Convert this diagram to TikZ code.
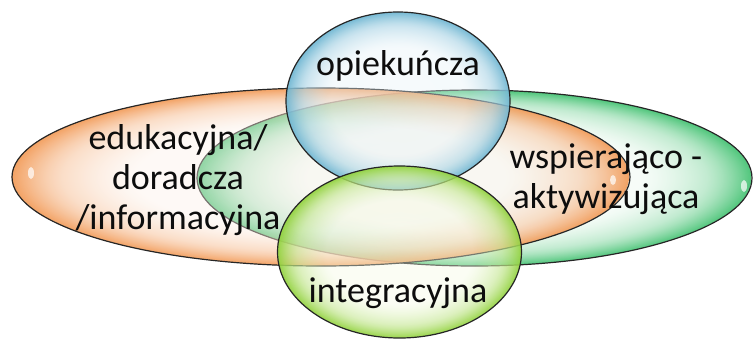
\documentclass[tikz,border=0pt]{standalone}
\usepackage{fontspec}
\setmainfont{Carlito}
\usetikzlibrary{fadings}

% colours of the four bubbles
\definecolor{orangeedge}{HTML}{F29C5A}
\definecolor{orangemid}{HTML}{FCF0E8}
\definecolor{greenedge}{HTML}{45C273}
\definecolor{greenmid}{HTML}{EAF8EE}
\definecolor{blueedge}{HTML}{6FB6D2}
\definecolor{bluemid}{HTML}{E6F2F8}
\definecolor{limeedge}{HTML}{92D23E}
\definecolor{limemid}{HTML}{F4FAE2}

\colorlet{bubin}{white}
\colorlet{bubout}{gray}
\pgfdeclareradialshading[bubin,bubout]{bubble}{\pgfpointorigin}{color(0bp)=(bubin); color(15bp)=(bubin); color(21bp)=(bubin!55!bubout); color(25bp)=(bubout); color(50bp)=(bubout)}
% centre see-through, rim nearly solid
\pgfdeclareradialshading{bubblemask}{\pgfpointorigin}{color(0bp)=(black!65); color(16bp)=(black!60); color(22bp)=(black!30); color(25bp)=(black!5); color(50bp)=(black!5)}
\pgfdeclarefading{bubblefade}{\pgfuseshading{bubblemask}}

\begin{document}
\begin{tikzpicture}[x=1pt,y=-1pt, every node/.style={font=\fontsize{36}{40}\selectfont, align=center, text=black!95}]

\tikzset{bubble/.style 2 args={/utils/exec={\colorlet{bubin}{#1}\colorlet{bubout}{#2}}, shade, shading=bubble, path fading=bubblefade},
rim/.style={draw=black!85, line width=1.2pt},
shine/.style={fill=white, fill opacity=0.7}}

\useasboundingbox (0,0) rectangle (753,338);

% wide ones first
\path [bubble={greenmid}{greenedge}] (474.5,178) ellipse [x radius=277.5pt, y radius=88pt];
\path [rim] (474.5,178) ellipse [x radius=277.5pt, y radius=88pt];
\path [bubble={orangemid}{orangeedge}] (321,177) ellipse [x radius=309pt, y radius=89pt];
\path [rim] (321,177) ellipse [x radius=309pt, y radius=89pt];

% top and bottom
\path [bubble={bluemid}{blueedge}] (398,101) ellipse [x radius=112pt, y radius=89pt];
\path [rim] (398,101) ellipse [x radius=112pt, y radius=89pt];
\path [bubble={limemid}{limeedge}] (399.5,252) ellipse [x radius=122pt, y radius=86pt];
\path [rim] (399.5,252) ellipse [x radius=122pt, y radius=86pt];

% small highlights
\path [shine] (31,173) ellipse [x radius=3pt, y radius=6pt];
\path [shine] (744,186) ellipse [x radius=3pt, y radius=6pt];
\path [shine] (613,180) ellipse [x radius=3pt, y radius=5pt];

\node (opieka) [anchor=base] at (398,75) {opiekuńcza};
\node (eduk) at (178,180) {edukacyjna/\\doradcza\\/informacyjna};
\node (wspier) at (606,179) {wspierająco -\\aktywizująca};
\node (integr) [anchor=base] at (398,302) {integracyjna};

\end{tikzpicture}
\end{document}
